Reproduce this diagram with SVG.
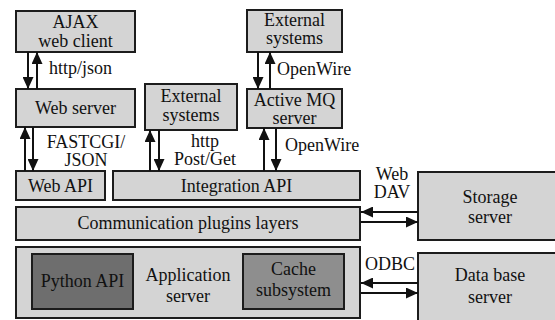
<svg xmlns="http://www.w3.org/2000/svg" width="555" height="320" viewBox="0 0 555 320">
  <style>
    .box { fill: #d4d4d4; stroke: #1c1c1c; stroke-width: 2; }
    .dark { fill: #6e6e6e; stroke: #1c1c1c; stroke-width: 2; }
    .mid { fill: #8e8e8e; stroke: #1c1c1c; stroke-width: 2; }
    text { font-family: 'Liberation Serif', 'DejaVu Serif', serif; font-size: 18px; fill: #111; }
    .c { text-anchor: middle; }
    .link { stroke: #111; stroke-width: 2; fill: none; marker-end: url(#head); }
  </style>
  <defs>
    <marker id="head" markerUnits="userSpaceOnUse" markerWidth="12" markerHeight="11" viewBox="0 0 12 11" refX="12" refY="5.5" orient="auto">
      <path d="M0,0 L12,5.5 L0,11 Z" fill="#111"/>
    </marker>
  </defs>
  <rect width="555" height="320" fill="#ffffff"/>

  <g font-family="Liberation Serif, DejaVu Serif, serif">
  <!-- client tier -->
  <g id="ajax-client">
    <rect class="box" x="16" y="11" width="119" height="41"/>
    <text class="c" x="75.5" y="28">AJAX</text>
    <text class="c" x="75.5" y="47">web client</text>
  </g>
  <g id="web-server">
    <rect class="box" x="16" y="89" width="119" height="38"/>
    <text class="c" x="75.5" y="114">Web server</text>
  </g>
  <g id="web-api">
    <rect class="box" x="16" y="171" width="89" height="29"/>
    <text class="c" x="60.5" y="192">Web API</text>
  </g>

  <!-- integration tier -->
  <g id="external-systems-http">
    <rect class="box" x="145" y="84" width="92" height="46"/>
    <text class="c" x="191" y="102">External</text>
    <text class="c" x="191" y="121">systems</text>
  </g>
  <g id="external-systems-mq">
    <rect class="box" x="247" y="10" width="95" height="42"/>
    <text class="c" x="294.5" y="26">External</text>
    <text class="c" x="294.5" y="44">systems</text>
  </g>
  <g id="active-mq">
    <rect class="box" x="247" y="89" width="95" height="39"/>
    <text class="c" x="294.5" y="106">Active MQ</text>
    <text class="c" x="294.5" y="124">server</text>
  </g>
  <g id="integration-api">
    <rect class="box" x="113" y="171" width="247" height="29"/>
    <text class="c" x="236.5" y="192">Integration API</text>
  </g>

  <!-- core tier -->
  <g id="communication-plugins">
    <rect class="box" x="16" y="207" width="344" height="33"/>
    <text class="c" x="188" y="229">Communication plugins layers</text>
  </g>
  <g id="application-server">
    <rect class="box" x="16" y="247" width="344" height="71"/>
    <text class="c" x="188" y="281">Application</text>
    <text class="c" x="188" y="302">server</text>
  </g>
  <g id="python-api">
    <rect class="dark" x="32" y="254" width="101" height="55"/>
    <text class="c" x="82.5" y="287">Python API</text>
  </g>
  <g id="cache-subsystem">
    <rect class="mid" x="243" y="254" width="101" height="55"/>
    <text class="c" x="293.5" y="275">Cache</text>
    <text class="c" x="293.5" y="296">subsystem</text>
  </g>

  <!-- back-end servers -->
  <g id="storage-server">
    <rect class="box" x="418" y="172" width="150" height="68"/>
    <text class="c" x="490" y="203">Storage</text>
    <text class="c" x="490" y="223">server</text>
  </g>
  <g id="database-server">
    <rect class="box" x="418" y="253" width="150" height="80"/>
    <text class="c" x="490" y="281">Data base</text>
    <text class="c" x="490" y="303">server</text>
  </g>

  <!-- connectors and protocol labels -->
  <g id="connectors">
    <line class="link" x1="28" y1="52" x2="28" y2="89"/>
    <line class="link" x1="37" y1="89" x2="37" y2="52"/>
    <text x="49" y="74">http/json</text>

    <line class="link" x1="25" y1="171" x2="25" y2="127"/>
    <line class="link" x1="33" y1="127" x2="33" y2="171"/>
    <text class="c" x="86" y="148">FASTCGI/</text>
    <text class="c" x="86" y="166">JSON</text>

    <line class="link" x1="150" y1="171" x2="150" y2="130"/>
    <line class="link" x1="159" y1="130" x2="159" y2="171"/>
    <text class="c" x="205" y="147">http</text>
    <text class="c" x="205" y="165">Post/Get</text>

    <line class="link" x1="258" y1="52" x2="258" y2="89"/>
    <line class="link" x1="270" y1="89" x2="270" y2="52"/>
    <text x="277" y="75">OpenWire</text>

    <line class="link" x1="264" y1="171" x2="264" y2="128"/>
    <line class="link" x1="276" y1="128" x2="276" y2="171"/>
    <text x="285" y="151">OpenWire</text>

    <line class="link" x1="418" y1="212" x2="361" y2="212"/>
    <line class="link" x1="361" y1="222" x2="418" y2="222"/>
    <text class="c" x="392" y="180">Web</text>
    <text class="c" x="392" y="198">DAV</text>

    <line class="link" x1="418" y1="283" x2="361" y2="283"/>
    <line class="link" x1="361" y1="293" x2="418" y2="293"/>
    <text class="c" x="390" y="270">ODBC</text>
  </g>
  </g>
</svg>
